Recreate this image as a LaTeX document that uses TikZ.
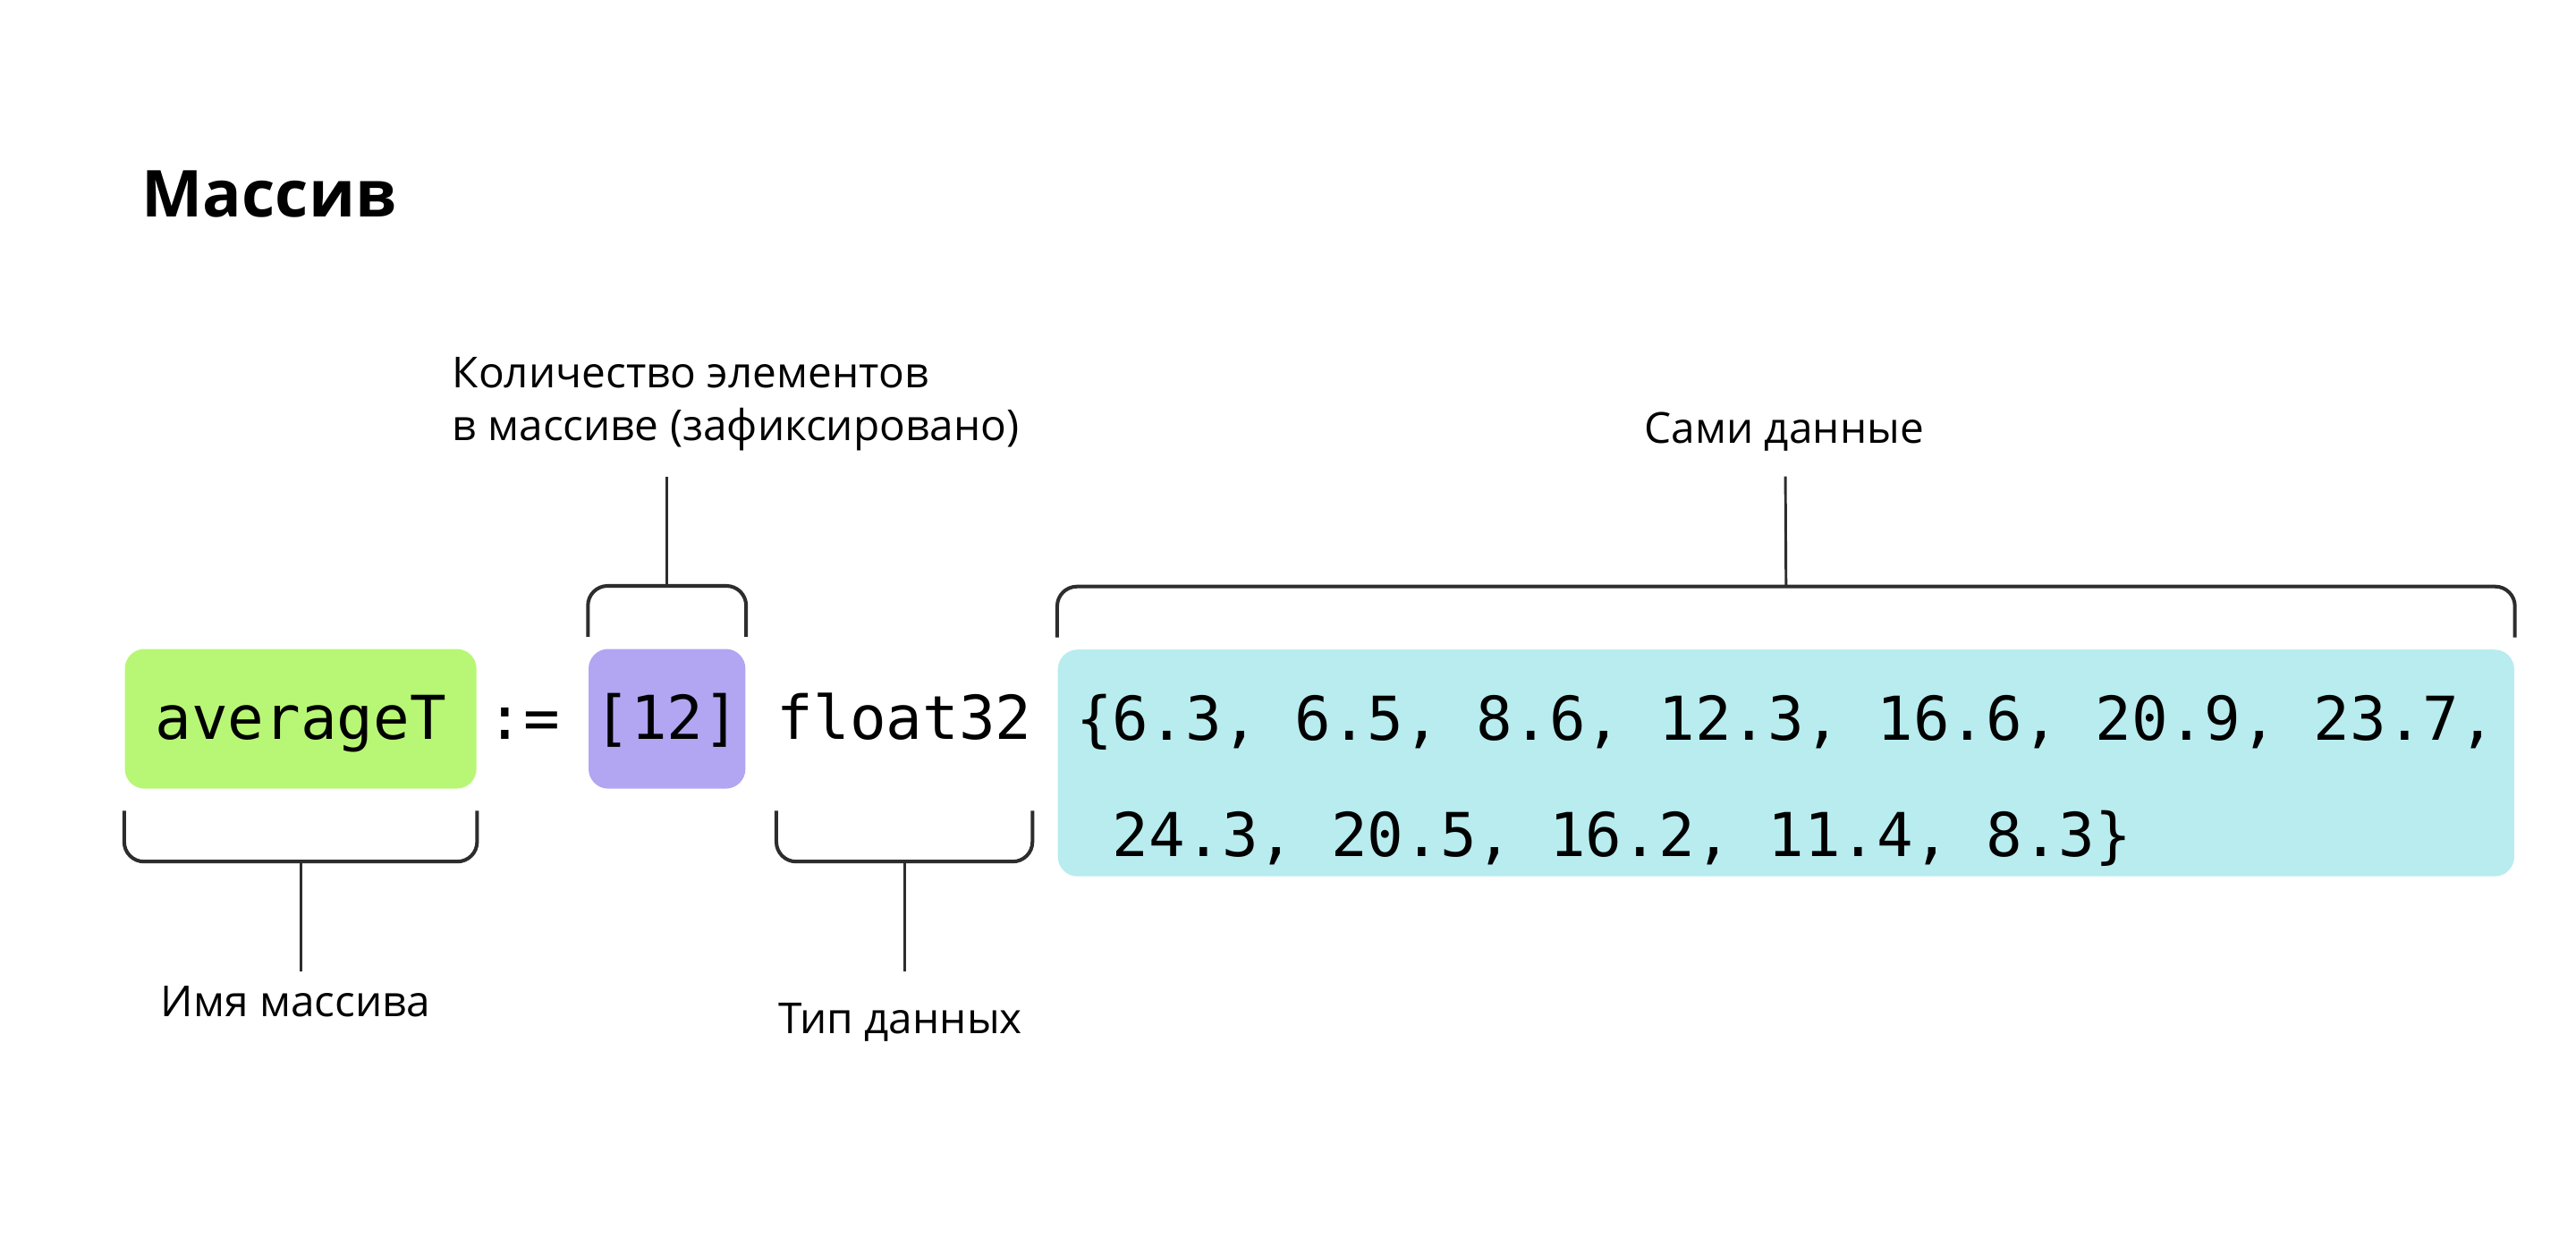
\documentclass[tikz,border=0pt]{standalone}
\usepackage{fontspec}
\setmainfont{Open Sans}
\setmonofont{DejaVu Sans Mono}
\usepackage{tikz}
\definecolor{limebox}{RGB}{184,247,117}
\definecolor{lilacbox}{RGB}{178,165,242}
\definecolor{aquabox}{RGB}{184,236,239}
\definecolor{inkgray}{RGB}{45,45,45}

\begin{document}
\begin{tikzpicture}[x=0.5pt,y=-0.5pt,
	code/.style={font=\fontsize{18.4}{35.5}\selectfont\ttfamily, inner xsep=0pt, inner ysep=0pt, text height=27.5pt, text depth=15pt},
	codebox/.style={code, rounded corners=6pt},
	brace/.style={draw=inkgray, line width=1.1pt, rounded corners=6pt},
	stem/.style={draw=inkgray, line width=0.8pt},
	note/.style={font=\fontsize{13}{16}\selectfont, inner sep=0pt}]
		\fill[white] (0,0) rectangle (1568,753.5);
		\node[anchor=base west, inner sep=0pt, font=\fontsize{19.7}{24}\selectfont\bfseries] (title) at (86,132) {Массив};
		% the code line
		\node[codebox, fill=limebox, minimum width=107pt] (name) at (183,437.5) {averageT};
		\node[code] (assign) at (318.5,437.5) {:=};
		\node[codebox, fill=lilacbox, minimum width=47.75pt] (size) at (406,437.5) {[12]};
		\node[code] (type) at (550.5,437.5) {float32};
		\node[codebox, fill=aquabox, anchor=north west, align=left, minimum width=443.25pt, text height=63pt, text depth=6pt] (data) at (643.5,395) {\{6.3, 6.5, 8.6, 12.3, 16.6, 20.9, 23.7,\\\ 24.3, 20.5, 16.2, 11.4, 8.3\}};
		% brackets
		\draw[brace] ([yshift=-6.5pt]name.south west) -- ++(0,31) -| ([yshift=-6.5pt]name.south east);
		\draw[brace] ([yshift=-6.5pt]type.south west) -- ++(0,31) -| ([yshift=-6.5pt]type.south east);
		\draw[brace] ([yshift=3.5pt]size.north west) -- ++(0,-31) -| ([yshift=3.5pt]size.north east);
		\draw[brace] ([yshift=3.5pt]data.north west) -- ++(0,-31) -| ([yshift=3.5pt]data.north east);
		% labels
		\node[note, anchor=base] (namelbl) at (180,619) {Имя массива};
		\node[note, anchor=base] (typelbl) at (548,629) {Тип данных};
		\node[note, anchor=base] (datalbl) at (1086,270) {Сами данные};
		\node[note, anchor=north west, align=left] (countlbl) at (275,217) {Количество элементов\\в массиве (зафиксировано)};
		\coordinate (nametip) at (183,591);
		\coordinate (typetip) at (550.5,591);
		\coordinate (sizetip) at (406,290);
		\coordinate (datatip) at (1086.75,290);
		\draw[stem] ([yshift=-22pt]name.south) -- (nametip);
		\draw[stem] ([yshift=-22pt]type.south) -- (typetip);
		\draw[stem] ([yshift=19pt]size.north) -- (sizetip);
		\draw[stem] ([yshift=19pt]data.north) -- (datatip);
\end{tikzpicture}
\end{document}
